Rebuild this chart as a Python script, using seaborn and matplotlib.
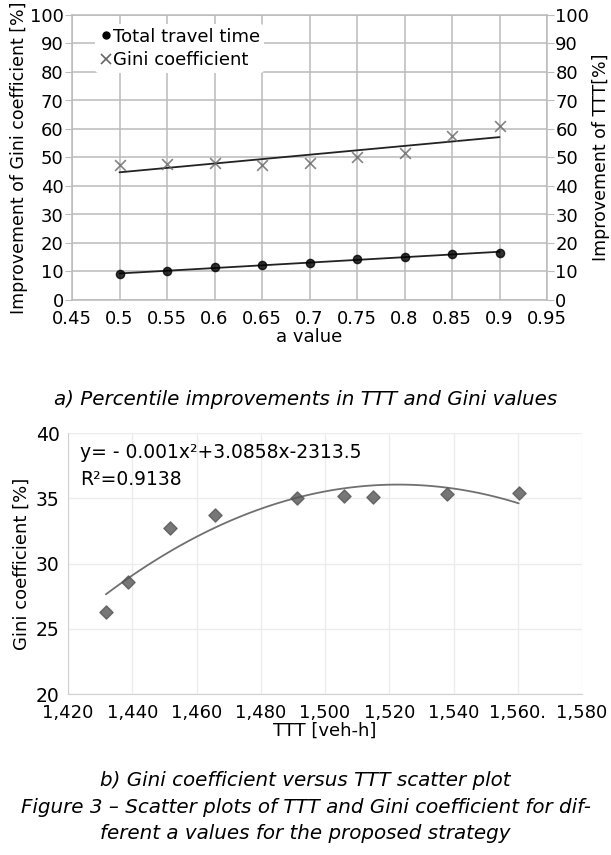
import numpy as np
import pandas as pd
import matplotlib
matplotlib.use("Agg")
import matplotlib.pyplot as plt
import seaborn as sns
from matplotlib.ticker import FixedLocator

# a) improvements vs a value
a_values = [0.5, 0.55, 0.6, 0.65, 0.7, 0.75, 0.8, 0.85, 0.9]
ttt_improvement = [9.0, 10.2, 11.5, 12.2, 13.0, 14.5, 15.2, 16.0, 16.5]
gini_improvement = [47.5, 47.8, 48.0, 47.5, 48.0, 50.0, 51.5, 57.5, 61.0]
top_xticks = [0.45, 0.5, 0.55, 0.6, 0.65, 0.7, 0.75, 0.8, 0.85, 0.9, 0.95]
top_yticks = list(range(0, 101, 10))

# b) Gini coefficient vs TTT
ttt_values = [1431.8, 1438.6, 1451.8, 1465.7, 1491.2, 1505.8, 1515.0, 1538.1, 1560.3]
gini_values = [26.3, 28.6, 32.7, 33.7, 35.05, 35.2, 35.1, 35.3, 35.4]
bottom_xticks = [1420, 1440, 1460, 1480, 1500, 1520, 1540, 1560, 1580]
bottom_xlabels = ["1,420", "1,440", "1,460", "1,480", "1,500", "1,520", "1,540", "1,560.", "1,580"]
bottom_yticks = [20, 25, 30, 35, 40]

df_a = pd.DataFrame({"a": a_values, "ttt": ttt_improvement, "gini": gini_improvement})
df_b = pd.DataFrame({"ttt": ttt_values, "gini": gini_values})

sns.set_style("white")
plt.rcParams["font.family"] = ["DejaVu Sans"]
plt.rcParams["text.color"] = "black"
plt.rcParams["axes.labelcolor"] = "black"

W, H = 611, 855
fig = plt.figure(figsize=(W / 100, H / 100), dpi=100)

# ---- top chart ----
ax1 = fig.add_axes([72 / W, 1 - 300 / H, 475 / W, 285 / H])
sns.regplot(data=df_a, x="a", y="gini", ax=ax1, ci=None, truncate=True,
            marker="x", scatter_kws={"s": 60, "color": "#666666", "linewidths": 1.2, "zorder": 4},
            line_kws={"color": "#222222", "lw": 1.3, "zorder": 3})
sns.regplot(data=df_a, x="a", y="ttt", ax=ax1, ci=None, truncate=True,
            marker="o", scatter_kws={"s": 35, "color": "black", "zorder": 4},
            line_kws={"color": "#222222", "lw": 1.3, "zorder": 3})
ax1.set_xlim(0.45, 0.95)
ax1.set_ylim(0, 100)
ax1.xaxis.set_major_locator(FixedLocator(top_xticks))
ax1.set_xticklabels([f"{v:g}" for v in top_xticks])
ax1.set_yticks(top_yticks)
ax1.grid(True, color="#bbbbbb", lw=1.1)
ax1.set_axisbelow(True)
for s in ax1.spines.values():
    s.set_color("#bbbbbb")
    s.set_linewidth(1.1)
ax1.tick_params(axis="both", labelsize=13, length=5, color="#bbbbbb", labelcolor="black", pad=1)
ax1.tick_params(axis="x", pad=2)
ax1.set_xlabel("a value", fontsize=13, labelpad=0)
ax1.set_ylabel("Improvement of Gini coefficient [%]", fontsize=12.5, labelpad=1)

ax1r = ax1.twinx()
ax1r.set_ylim(0, 100)
ax1r.set_yticks(top_yticks)
ax1r.tick_params(axis="y", labelsize=13, length=5, color="#bbbbbb", labelcolor="black", pad=1)
for s in ax1r.spines.values():
    s.set_visible(False)
ax1r.set_ylabel("Improvement of TTT[%]", fontsize=12.5, labelpad=2)

ttt_handle = plt.Line2D([], [], marker="o", color="black", ls="none", markersize=5)
gini_handle = plt.Line2D([], [], marker="x", color="#666666", ls="none", markersize=7, mew=1.2)
leg = ax1.legend([ttt_handle, gini_handle], ["Total travel time", "Gini coefficient"],
                 loc="upper left", bbox_to_anchor=(0.03, 1.0), fontsize=13,
                 handletextpad=0.0, handlelength=0.8, borderpad=0.2, labelspacing=0.3,
                 frameon=True, framealpha=1, edgecolor="none", facecolor="white")

fig.text(0.5, 1 - 399 / H, "a) Percentile improvements in TTT and Gini values",
         ha="center", va="center", fontsize=14.3, style="italic")

# ---- bottom chart ----
ax2 = fig.add_axes([68 / W, 1 - 694 / H, 514 / W, 261 / H])
sns.regplot(data=df_b, x="ttt", y="gini", ax=ax2, ci=None, order=2, truncate=True,
            marker="D", scatter_kws={"s": 45, "color": "#555555", "zorder": 4},
            line_kws={"color": "#707070", "lw": 1.3, "zorder": 3})
ax2.set_xlim(1420, 1580)
ax2.set_ylim(20, 40)
ax2.set_xticks(bottom_xticks)
ax2.set_xticklabels(bottom_xlabels)
ax2.set_yticks(bottom_yticks)
ax2.grid(True, color="#ececec", lw=1.0)
ax2.set_axisbelow(True)
ax2.spines["top"].set_visible(False)
ax2.spines["right"].set_visible(False)
for s in ("left", "bottom"):
    ax2.spines[s].set_color("#d0d0d0")
ax2.tick_params(axis="y", labelsize=13.5, length=0, pad=6, labelcolor="black")
ax2.tick_params(axis="x", labelsize=13, length=0, pad=7, labelcolor="black")
ax2.set_xlabel("TTT [veh-h]", fontsize=13, labelpad=0)
ax2.set_ylabel("Gini coefficient [%]", fontsize=13, labelpad=4)
ax2.text(12 / 514, 1 - 19 / 261, "y= - 0.001x²+3.0858x-2313.5", transform=ax2.transAxes,
         fontsize=13.5, va="center")
ax2.text(12 / 514, 1 - 46 / 261, "R²=0.9138", transform=ax2.transAxes, fontsize=13.5, va="center")

fig.text(0.5, 1 - 780 / H, "b) Gini coefficient versus TTT scatter plot",
         ha="center", va="center", fontsize=14.3, style="italic")
fig.text(0.5, 1 - 807 / H, "Figure 3 \u2013 Scatter plots of TTT and Gini coefficient for dif-",
         ha="center", va="center", fontsize=14.3, style="italic")
fig.text(0.5, 1 - 833 / H, "ferent a values for the proposed strategy",
         ha="center", va="center", fontsize=14.3, style="italic")

fig.savefig("out.png", dpi=100)
